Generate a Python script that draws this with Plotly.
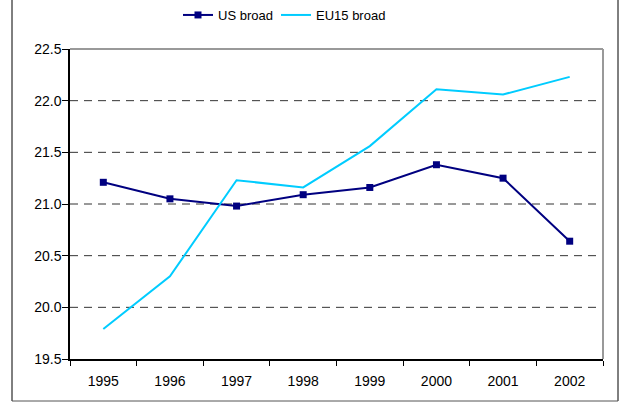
import plotly.graph_objects as go

years = ["1995", "1996", "1997", "1998", "1999", "2000", "2001", "2002"]
us_broad = [21.21, 21.05, 20.98, 21.09, 21.16, 21.38, 21.25, 20.64]
eu15_broad = [19.79, 20.30, 21.23, 21.16, 21.56, 22.11, 22.06, 22.23]
y_ticks = [19.5, 20.0, 20.5, 21.0, 21.5, 22.0, 22.5]

W, H = 621, 403
L, R, T, B = 70, 18, 49, 44

fig = go.Figure()
fig.add_trace(go.Scatter(
    x=years, y=us_broad, name="US broad", mode="lines+markers",
    line=dict(color="#000080", width=2),
    marker=dict(symbol="square", size=7, color="#000080"),
    legend="legend",
))
fig.add_trace(go.Scatter(
    x=years, y=eu15_broad, name="EU15 broad", mode="lines",
    line=dict(color="#00CCFF", width=2),
    legend="legend2",
))

# dashed gridlines
for v in y_ticks[1:-1]:
    fig.add_shape(type="line", xref="paper", yref="y", x0=0, x1=1, y0=v, y1=v,
                  line=dict(color="#333333", width=1, dash="8px,6px"), layer="below")

pw = W - L - R
ph = H - T - B
def px(x):
    return (x - L) / pw
def py(y):
    return (H - B - y) / ph

# outer chart border
fig.add_shape(type="line", xref="paper", yref="paper", x0=px(12), x1=px(12), y0=py(0), y1=py(401),
              line=dict(color="black", width=1))
fig.add_shape(type="line", xref="paper", yref="paper", x0=px(618), x1=px(618), y0=py(0), y1=py(401),
              line=dict(color="black", width=1))
fig.add_shape(type="line", xref="paper", yref="paper", x0=px(12), x1=px(618), y0=py(401), y1=py(401),
              line=dict(color="#555555", width=1))
# plot area top/right border (gray)
fig.add_shape(type="line", xref="paper", yref="paper", x0=0, x1=1, y0=1, y1=1,
              line=dict(color="#999999", width=2))
fig.add_shape(type="line", xref="paper", yref="paper", x0=1, x1=1, y0=0, y1=1,
              line=dict(color="#999999", width=2))

leg_common = dict(orientation="h", yanchor="top", y=py(0), xanchor="left",
                  font=dict(size=13), itemwidth=30, bgcolor="rgba(0,0,0,0)")

fig.update_layout(
    width=W, height=H,
    margin=dict(l=L, r=R, t=T, b=B, autoexpand=False),
    paper_bgcolor="white", plot_bgcolor="white",
    font=dict(family="Liberation Sans, Arial, sans-serif", size=14, color="black"),
    showlegend=True,
    legend=dict(x=px(178), **leg_common),
    legend2=dict(x=px(276), **leg_common),
    xaxis=dict(type="category", range=[-0.5, 7.5], tickson="boundaries",
               ticks="outside", ticklen=5, tickcolor="black", automargin=False,
               ticklabelstandoff=8,
               showline=True, linecolor="black", linewidth=1.5,
               showgrid=False, zeroline=False, fixedrange=True),
    yaxis=dict(range=[19.5, 22.5], tickvals=y_ticks, ticktext=[f"{v:.1f}" for v in y_ticks],
               ticks="outside", ticklen=6, tickcolor="black", automargin=False,
               ticklabelstandoff=-2,
               showline=True, linecolor="black", linewidth=1.5,
               showgrid=False, zeroline=False, fixedrange=True),
)

fig.write_html("out.html", config={"displayModeBar": False},
               post_script="document.body.style.margin='0';")
